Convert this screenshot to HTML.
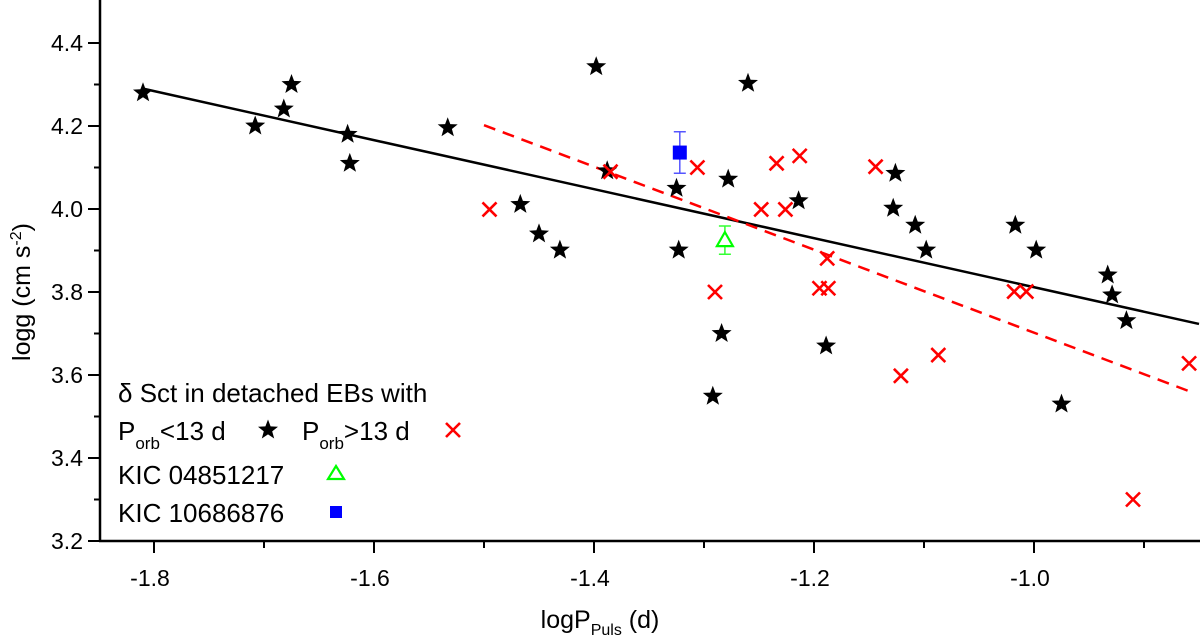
<!DOCTYPE html>
<html><head><meta charset="utf-8"><style>
html,body{margin:0;padding:0;background:#fff;}
svg{display:block;font-family:"Liberation Sans",Arial,sans-serif;}
</style></head><body>
<svg id="chart" width="1200" height="640" viewBox="0 0 1200 640">
<g id="axes"></g>
<g id="fits"></g>
<g id="marks"></g>
<g id="legend">
  <text x="118" y="402" font-size="26">δ Sct in detached EBs with</text>
  <text x="118" y="440" font-size="26">P<tspan font-size="17" dy="9">orb</tspan><tspan dy="-9">&lt;13 d</tspan></text>
  <text x="302" y="440" font-size="26">P<tspan font-size="17" dy="9">orb</tspan><tspan dy="-9">&gt;13 d</tspan></text>
  <text x="118" y="484" font-size="26">KIC 04851217</text>
  <text x="118" y="522" font-size="26">KIC 10686876</text>
</g>
<text x="600" y="628" font-size="25" text-anchor="middle">logP<tspan font-size="16" dy="7">Puls</tspan><tspan dy="-7"> (d)</tspan></text>
<text transform="translate(30,292) rotate(-90)" font-size="25" text-anchor="middle">logg (cm s<tspan font-size="16" dy="-9">-2</tspan><tspan dy="9">)</tspan></text>
</svg>
<script>
const xTicks = [-1.8, -1.6, -1.4, -1.2, -1.0];
const xTickLabels = ["-1.8", "-1.6", "-1.4", "-1.2", "-1.0"];
const yTicks = [3.2, 3.4, 3.6, 3.8, 4.0, 4.2, 4.4];
const yTickLabels = ["3.2", "3.4", "3.6", "3.8", "4.0", "4.2", "4.4"];
const starX = [-1.810,-1.708,-1.682,-1.675,-1.624,-1.622,-1.533,-1.398,-1.260,-1.388,-1.325,-1.278,-1.467,-1.450,-1.431,-1.323,-1.284,-1.292,-1.214,-1.126,-1.128,-1.108,-1.098,-1.017,-0.998,-0.933,-0.929,-0.916,-1.189,-0.975];
const starY = [4.280,4.200,4.241,4.300,4.180,4.110,4.196,4.343,4.303,4.092,4.050,4.072,4.011,3.940,3.901,3.901,3.700,3.549,4.020,4.086,4.002,3.961,3.901,3.961,3.901,3.841,3.793,3.731,3.670,3.530];
const crossX = [-1.385,-1.306,-1.495,-1.248,-1.226,-1.234,-1.213,-1.144,-1.290,-1.188,-1.195,-1.187,-1.018,-1.007,-1.121,-1.087,-0.859,-0.910];
const crossY = [4.090,4.100,3.999,3.999,3.999,4.110,4.128,4.102,3.800,3.881,3.809,3.809,3.801,3.801,3.598,3.648,3.628,3.300];
const kicBlue = [-1.322, 4.136, 0.05];
const kicGreen = [-1.281, 3.925, 0.034];
const solidFit = [3.221, -0.5906, -1.81, -0.85];
const dashedFit = [2.702, -1.0, -1.50, -0.859];

const X0=-1.8, X1=-1.0, PX0=154, PX1=1034;
const Y0=3.2, Y1=4.4, PY0=541, PY1=43;
function sx(v){return PX0+(v-X0)*(PX1-PX0)/(X1-X0);}
function sy(v){return PY0+(v-Y0)*(PY1-PY0)/(Y1-Y0);}
const NS="http://www.w3.org/2000/svg";
function mk(tag,attrs,parent){const e=document.createElementNS(NS,tag);for(const k in attrs)e.setAttribute(k,attrs[k]);parent.appendChild(e);return e;}
const axes=document.getElementById('axes'), fits=document.getElementById('fits'), marks=document.getElementById('marks'), legend=document.getElementById('legend');

let el=mk('line',{x1:100,y1:0,x2:100,y2:542,stroke:'#000','stroke-width':2.5},axes);


el=mk('line',{x1:99,y1:541,x2:1200,y2:541,stroke:'#000','stroke-width':2.5},axes);


for(let i=0;i<xTicks.length;i++){
  const x=sx(xTicks[i]);
  el=mk('line',{x1:x,y1:541,x2:x,y2:553,stroke:'#000','stroke-width':2},axes);
  
  
  el=mk('text',{x:x-4,y:586,'font-size':23,'text-anchor':'middle'},axes);
  el.textContent=xTickLabels[i];
  
  
}
for(let v=-1.7;v<-0.85;v+=0.2){
  const x=sx(v);
  el=mk('line',{x1:x,y1:541,x2:x,y2:548,stroke:'#000','stroke-width':2},axes);
  
  
}
for(let i=0;i<yTicks.length;i++){
  const y=sy(yTicks[i]);
  el=mk('line',{x1:88,y1:y,x2:100,y2:y,stroke:'#000','stroke-width':2},axes);
  
  
  el=mk('text',{x:83,y:y+8,'font-size':23,'text-anchor':'end'},axes);
  el.textContent=yTickLabels[i];
  
  
}
for(let v=3.3;v<4.5;v+=0.2){
  const y=sy(v);
  el=mk('line',{x1:94,y1:y,x2:100,y2:y,stroke:'#000','stroke-width':2},axes);
  
  
}
el=mk('line',{x1:sx(solidFit[2]),y1:sy(solidFit[0]+solidFit[1]*solidFit[2]),x2:sx(solidFit[3]),y2:sy(solidFit[0]+solidFit[1]*solidFit[3]),stroke:'#000','stroke-width':2.5},fits);


el=mk('line',{x1:sx(dashedFit[2]),y1:sy(dashedFit[0]+dashedFit[1]*dashedFit[2]),x2:sx(dashedFit[3]),y2:sy(dashedFit[0]+dashedFit[1]*dashedFit[3]),stroke:'#f00','stroke-width':2.5,'stroke-dasharray':'12,8'},fits);



function starPath(cx,cy,R){
  const r=R*0.42;let d='';
  for(let i=0;i<10;i++){const a=-Math.PI/2+i*Math.PI/5;const rr=i%2?r:R;d+=(i?'L':'M')+(cx+rr*Math.cos(a)).toFixed(1)+','+(cy+rr*Math.sin(a)).toFixed(1);}
  return d+'Z';
}
function drawStar(cx,cy,parent){return mk('path',{d:starPath(cx,cy,10.5),fill:'#000'},parent);}
function drawCross(cx,cy,parent){return mk('path',{d:`M${cx-7},${cy-7}L${cx+7},${cy+7}M${cx-7},${cy+7}L${cx+7},${cy-7}`,stroke:'#f00','stroke-width':2.6,fill:'none'},parent);}
for(let i=0;i<starX.length;i++){
  el=drawStar(sx(starX[i]),sy(starY[i]),marks);
  
  
}
for(let i=0;i<crossX.length;i++){
  el=drawCross(sx(crossX[i]),sy(crossY[i]),marks);
  
  
}
{
  const cx=sx(kicBlue[0]),cy=sy(kicBlue[1]),t=sy(kicBlue[1]+kicBlue[2]),b=sy(kicBlue[1]-kicBlue[2]);
  el=mk('path',{d:`M${cx},${t}V${b}M${cx-6},${t}H${cx+6}M${cx-6},${b}H${cx+6}`,stroke:'#55f','stroke-width':1.5,fill:'none'},marks);
  
  
  el=mk('rect',{x:cx-7,y:cy-7,width:14,height:14,fill:'#00f'},marks);
  
  
}
{
  const cx=sx(kicGreen[0]),cy=sy(kicGreen[1]),t=sy(kicGreen[1]+kicGreen[2]),b=sy(kicGreen[1]-kicGreen[2]);
  el=mk('path',{d:`M${cx},${t}V${b}M${cx-6},${t}H${cx+6}M${cx-6},${b}H${cx+6}`,stroke:'#3f3','stroke-width':1.5,fill:'none'},marks);
  
  
  el=mk('path',{d:`M${cx},${cy-8}L${cx+8},${cy+6}L${cx-8},${cy+6}Z`,stroke:'#0f0','stroke-width':2.2,fill:'#fff'},marks);
  
  
}
el=drawStar(268,430,legend);


el=drawCross(453,430,legend);


el=mk('path',{d:'M336,466L344,479L328,479Z',stroke:'#0f0','stroke-width':2.2,fill:'#fff'},legend);


el=mk('rect',{x:330,y:506,width:12,height:12,fill:'#00f'},legend);


</script>
</body></html>
